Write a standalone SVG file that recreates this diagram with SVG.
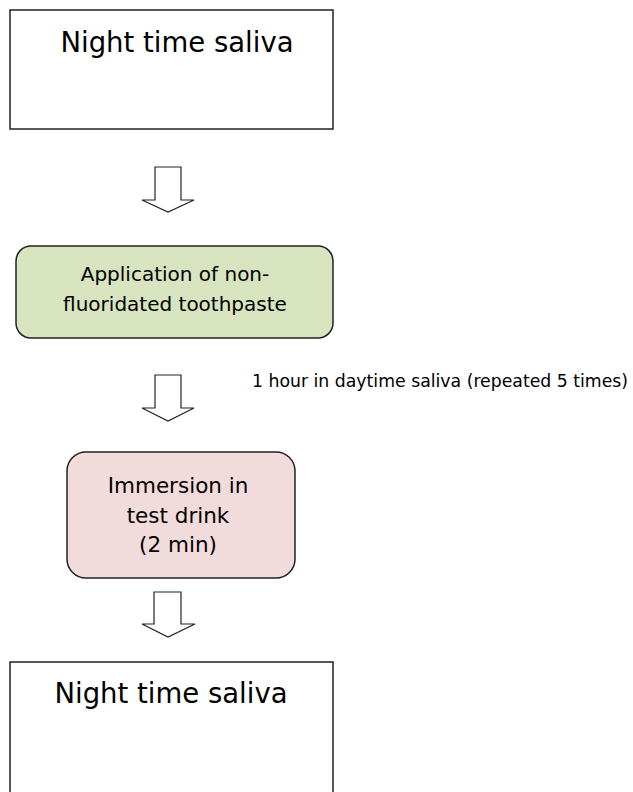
<svg xmlns="http://www.w3.org/2000/svg" width="633" height="792" viewBox="0 0 633 792">
<defs>
<style>
text{font-family:"Comic Sans MS","DejaVu Sans","Liberation Sans",sans-serif;fill:#000;text-anchor:middle}
.box{fill:#fff;stroke:#222;stroke-width:1.5}
.arrow{fill:#fff;stroke:#222;stroke-width:1.2;stroke-linejoin:miter}
.big{font-size:27.5px}
.mid{font-size:20px}
.imm{font-size:21.5px}
</style>
</defs>
<rect width="633" height="792" fill="#fff"/>
<g id="node-night1">
<rect class="box" x="10" y="10" width="323" height="119"/>
<text class="big" x="177" y="52">Night time saliva</text>
</g>
<g id="node-toothpaste">
<rect class="box" x="16" y="246" width="317" height="92" rx="15" style="fill:#d8e4bf"/>
<text class="mid" x="175" y="281">Application of non-</text>
<text class="mid" x="175" y="311">fluoridated toothpaste</text>
</g>
<g id="node-immersion">
<rect class="box" x="67" y="452" width="228" height="126" rx="19" style="fill:#f2dcdb"/>
<text class="imm" x="178" y="493">Immersion in</text>
<text class="imm" x="178" y="523">test drink</text>
<text class="imm" x="178" y="552">(2 min)</text>
</g>
<g id="node-night2">
<path class="box" d="M10,800 V662 H333 V800"/>
<text class="big" x="171" y="703">Night time saliva</text>
</g>
<g id="connectors">
<path class="arrow" d="M155,167 H181 V200 H194 L168,212 L142,200 H155 Z"/>
<path class="arrow" d="M155,375 H181 V408 H194 L168,421 L142,408 H155 Z"/>
<path class="arrow" d="M154,592 H181 V624 H195 L168,637 L142,624 H154 Z"/>
<text style="font-size:17.3px;text-anchor:start" x="252" y="387">1 hour in daytime saliva (repeated 5 times)</text>
</g>
</svg>
